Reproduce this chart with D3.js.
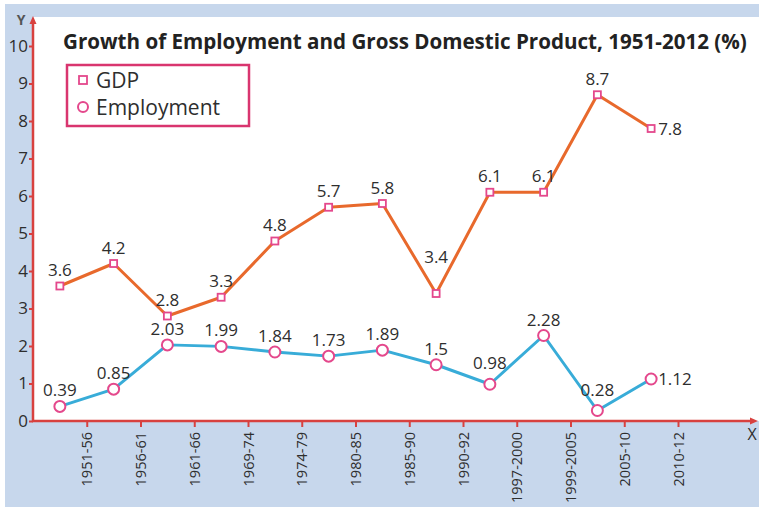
<!DOCTYPE html>
<html><head><meta charset="utf-8">
<script src="https://cdn.jsdelivr.net/npm/d3@7"></script>
<style>
html,body{margin:0;padding:0;background:#fff;}
svg{display:block;font-family:"Open Sans",sans-serif;}
</style></head>
<body>
<svg id="chart" width="759" height="512"></svg>
<script>
// ---- data ----
const periods = ["1951-56","1956-61","1961-66","1969-74","1974-79","1980-85","1985-90","1990-92","1997-2000","1999-2005","2005-10","2010-12"];
const gdp = [3.6, 4.2, 2.8, 3.3, 4.8, 5.7, 5.8, 3.4, 6.1, 6.1, 8.7, 7.8];
const employment = [0.39, 0.85, 2.03, 1.99, 1.84, 1.73, 1.89, 1.5, 0.98, 2.28, 0.28, 1.12];
const yTicks = [0,1,2,3,4,5,6,7,8,9,10];
const titleText = "Growth of Employment and Gross Domestic Product, 1951-2012 (%)";
const seriesNames = ["GDP", "Employment"];

// label placement codes (style, not data)
const gdpPlace = ["top","top","top","top","top","top","top","deep","top","top","top","right"];
const empPlace = ["top","top","top","top","top","top","top","top","high","top","high","right"];

const svg = d3.select("#chart");
const W = 759, H = 512;
const plotLeft = 33, plotTop = 17, axisY = 421, bandRight = 678;
const cAxis = "#d8413f", cGdp = "#e8692c", cEmp = "#38acd8", cMark = "#e4488c", cText = "#2e2e2e";

// background
svg.append("rect").attr("x",5).attr("y",4).attr("width",W-5).attr("height",503).attr("fill","#c7d7ec");
svg.append("rect").attr("x",plotLeft).attr("y",plotTop).attr("width",W-plotLeft).attr("height",axisY-plotTop).attr("fill","#fff");

const x = d3.scaleBand().domain(periods).range([plotLeft, bandRight]);
const bw = x.bandwidth();
const xTick = d3.scalePoint().domain(periods).range([plotLeft+bw, bandRight]);
const y = d3.scaleLinear().domain([0,10]).range([axisY, 46]);
const cx = d => x(d) + bw/2;

// y axis
const ya = svg.append("g").attr("transform",`translate(${plotLeft},0)`)
  .call(d3.axisLeft(y).tickValues(yTicks).tickSize(4).tickPadding(1));
ya.select(".domain").remove();
ya.selectAll("line").attr("stroke",cAxis).attr("stroke-width",2);
ya.selectAll("text").attr("fill",cText).style("font-size","17px").attr("font-family","Open Sans");

// x axis
const xa = svg.append("g").attr("transform",`translate(0,${axisY})`)
  .call(d3.axisBottom(xTick).tickSize(6));
xa.select(".domain").remove();
xa.selectAll("line").attr("stroke",cAxis).attr("stroke-width",2);
xa.selectAll("text").attr("fill",cText).style("font-size","14.5px").attr("font-family","Open Sans")
  .attr("transform","rotate(-90)").attr("x",-11).attr("y",0).attr("dy","0.35em").style("text-anchor","end");

// axis lines with arrows
svg.append("line").attr("x1",plotLeft).attr("x2",plotLeft).attr("y1",axisY+1).attr("y2",22).attr("stroke",cAxis).attr("stroke-width",2.5);
svg.append("path").attr("d",`M${plotLeft-3.5},${24} L${plotLeft},${16} L${plotLeft+3.5},${24} Z`).attr("fill",cAxis);
svg.append("line").attr("x1",plotLeft-1).attr("x2",752).attr("y1",axisY).attr("y2",axisY).attr("stroke",cAxis).attr("stroke-width",2.5);
svg.append("path").attr("d",`M${750},${axisY-3.5} L${758},${axisY} L${750},${axisY+3.5} Z`).attr("fill",cAxis);
svg.append("text").attr("x",21).attr("y",25).attr("text-anchor","middle").attr("fill","#555").style("font-size","14px").style("font-weight","bold").text("Y");
svg.append("text").attr("x",752).attr("y",440).attr("text-anchor","middle").attr("fill",cText).style("font-size","16px").text("X");

// title
const title = svg.append("text").attr("x",63).attr("y",48.5).attr("fill","#222")
  .style("font-weight","bold").style("font-size","19px").text(titleText);
const tw = title.node().getComputedTextLength();
title.style("font-size", (19*684/tw).toFixed(2)+"px");

// lines
const line = d3.line().x((d,i)=>cx(periods[i])).y(d=>y(d));
svg.append("path").datum(gdp).attr("d",line).attr("fill","none").attr("stroke",cGdp).attr("stroke-width",3).attr("stroke-linejoin","round");
svg.append("path").datum(employment).attr("d",line).attr("fill","none").attr("stroke",cEmp).attr("stroke-width",3).attr("stroke-linejoin","round");

// markers
svg.append("g").selectAll("rect").data(gdp).join("rect")
  .attr("x",(d,i)=>cx(periods[i])-3.5).attr("y",d=>y(d)-3.5).attr("width",7).attr("height",7)
  .attr("fill","#fff").attr("stroke",cMark).attr("stroke-width",1.8);
svg.append("g").selectAll("circle").data(employment).join("circle")
  .attr("cx",(d,i)=>cx(periods[i])).attr("cy",d=>y(d)).attr("r",5.5)
  .attr("fill","#fff").attr("stroke",cMark).attr("stroke-width",2);

// value labels
function labels(vals, place){
  svg.append("g").selectAll("text").data(vals).join("text")
    .attr("x",(d,i)=> place[i]==="right" ? cx(periods[i])+7 : cx(periods[i]))
    .attr("y",(d,i)=> {
      const p = place[i];
      if(p==="right") return y(d)+6;
      if(p==="deep") return y(d)-31;
      if(p==="high") return y(d)-15;
      return y(d)-10;
    })
    .attr("text-anchor",(d,i)=> place[i]==="right" ? "start" : "middle")
    .attr("fill",cText).style("font-size","17px")
    .text(d=>String(d));
}
labels(gdp, gdpPlace);
labels(employment, empPlace);

// legend
const lg = svg.append("g");
lg.append("rect").attr("x",67).attr("y",65).attr("width",182).attr("height",61)
  .attr("fill","#fff").attr("stroke","#d9356f").attr("stroke-width",2.5);
lg.append("rect").attr("x",79).attr("y",76).attr("width",8).attr("height",8)
  .attr("fill","#fff").attr("stroke",cMark).attr("stroke-width",1.8);
lg.append("circle").attr("cx",83).attr("cy",107).attr("r",5)
  .attr("fill","#fff").attr("stroke",cMark).attr("stroke-width",2);
lg.append("text").attr("x",96).attr("y",88).attr("fill",cText).style("font-size","21px").text(seriesNames[0]);
lg.append("text").attr("x",96).attr("y",115).attr("fill",cText).style("font-size","21px").text(seriesNames[1]);
</script>
</body></html>
